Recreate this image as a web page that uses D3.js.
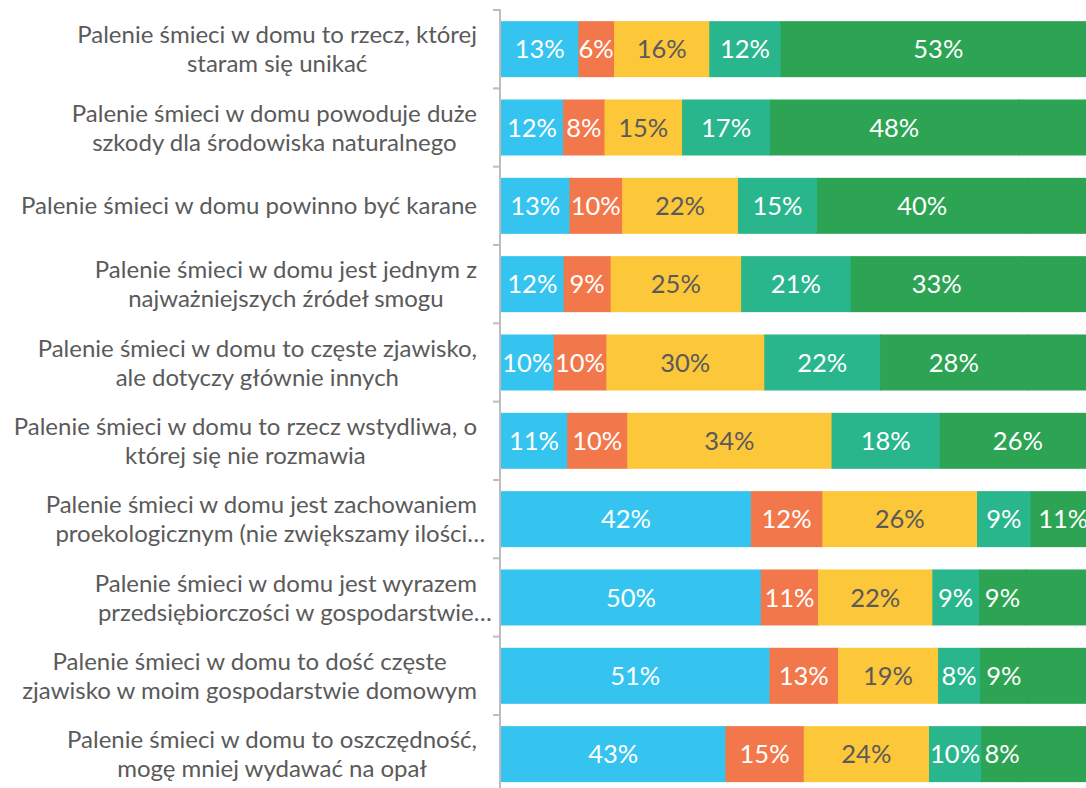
<!DOCTYPE html>
<html>
<head>
<meta charset="utf-8">
<script src="https://cdn.jsdelivr.net/npm/d3@7"></script>
<style>
  body { margin: 0; background: #fff; }
  svg { display: block; font-family: Lato, "Open Sans", sans-serif; }
</style>
</head>
<body>
<svg></svg>
<script>
// category labels, one entry per line
var categories = [
  ["Palenie śmieci w domu to rzecz, której", "staram się unikać"],
  ["Palenie śmieci w domu powoduje duże", "szkody dla środowiska naturalnego"],
  ["Palenie śmieci w domu powinno być karane"],
  ["Palenie śmieci w domu jest jednym z", "najważniejszych źródeł smogu"],
  ["Palenie śmieci w domu to częste zjawisko,", "ale dotyczy głównie innych"],
  ["Palenie śmieci w domu to rzecz wstydliwa, o", "której się nie rozmawia"],
  ["Palenie śmieci w domu jest zachowaniem", "proekologicznym (nie zwiększamy ilości…"],
  ["Palenie śmieci w domu jest wyrazem", "przedsiębiorczości w gospodarstwie…"],
  ["Palenie śmieci w domu to dość częste", "zjawisko w moim gospodarstwie domowym"],
  ["Palenie śmieci w domu to oszczędność,", "mogę mniej wydawać na opał"]
];

// answer shares (%), from "disagree" to "agree"
var s1 = [13, 12, 13, 12, 10, 11, 42, 50, 51, 43];
var s2 = [6, 8, 10, 9, 10, 10, 12, 11, 13, 15];
var s3 = [16, 15, 22, 25, 30, 34, 26, 22, 19, 24];
var s4 = [12, 17, 15, 21, 22, 18, 9, 9, 8, 10];
var s5 = [53, 48, 40, 33, 28, 26, 11, 9, 9, 8];
// unlabelled remainder that runs off the right edge
var rest = [0, 15, 13, 14, 13, 0, 0, 13.5, 13, 14];

var keys = ["s1", "s2", "s3", "s4", "s5", "rest"];
var colors = ["#35c4f0", "#f2784b", "#fdc73a", "#29b68c", "#2ca453", "#2ca453"];
var textColors = ["#fff", "#fff", "#5a5a5a", "#fff", "#fff", null];

var width = 1086, height = 788;

var svg = d3.select("svg")
    .attr("width", width)
    .attr("height", height);

// rows for the stack
var rows = categories.map(function(c, i) {
  return { i: i, s1: s1[i], s2: s2[i], s3: s3[i], s4: s4[i], s5: s5[i], rest: rest[i] };
});

var stack = d3.stack()
    .keys(keys)
    .offset(d3.stackOffsetExpand);
var series = stack(rows);

var x = d3.scaleLinear()
    .domain([0, 1])
    .range([501, 1096]);

var y = d3.scaleBand()
    .domain(d3.range(categories.length))
    .range([10, 793.3])
    .paddingInner(0.285)
    .paddingOuter(0.1425);

// bars
var layer = svg.append("g")
  .selectAll("g")
  .data(series)
  .enter().append("g")
    .attr("fill", function(d, i) { return colors[i]; });

layer.selectAll("rect")
  .data(function(d) { return d; })
  .enter().append("rect")
    .attr("x", function(d) { return x(d[0]); })
    .attr("y", function(d) { return y(d.data.i); })
    // the remainder overlaps a little so no seam shows against the green
    .attr("width", function(d) { return x(d[1]) - x(d[0]) + 1; })
    .attr("height", y.bandwidth());

// value labels in the middle of each segment
layer.filter(function(d, i) { return textColors[i]; })
  .selectAll("text")
  .data(function(d, i) { return d.map(function(p) { p.k = i; return p; }); })
  .enter().append("text")
    .attr("x", function(d) { return (x(d[0]) + x(d[1])) / 2; })
    .attr("y", function(d) { return y(d.data.i) + y.bandwidth() / 2; })
    .attr("dy", "0.36em")
    .attr("text-anchor", "middle")
    .attr("font-size", 25.5)
    .attr("fill", function(d) { return textColors[d.k]; })
    .text(function(d) { return d.data[keys[d.k]] + "%"; });

// left axis: line plus ticks at the band edges
var axis = svg.append("g");
axis.append("line")
    .attr("x1", 500).attr("x2", 500)
    .attr("y1", 9).attr("y2", height)
    .attr("stroke", "#bdbdbd")
    .attr("stroke-width", 2);

var edges = d3.range(categories.length + 1).map(function(i) {
  return y.range()[0] + i * y.step();
});
axis.selectAll(".tick")
  .data(edges)
  .enter().append("line")
    .attr("class", "tick")
    .attr("x1", 493).attr("x2", 500)
    .attr("y1", function(d) { return d; })
    .attr("y2", function(d) { return d; })
    .attr("stroke", "#bdbdbd")
    .attr("stroke-width", 2);

// category labels, block right-aligned, lines centred inside the block
var labelRight = 477;
var lineH = 29;
categories.forEach(function(lines, i) {
  var g = svg.append("g");
  var cy = y(i) + y.bandwidth() / 2;
  var texts = lines.map(function(l, j) {
    return g.append("text")
        .attr("font-size", 24)
        .attr("fill", "#5a5a5a")
        .attr("dy", "0.36em")
        .attr("y", cy + (j - (lines.length - 1) / 2) * lineH)
        .text(l);
  });
  // widths without trailing ellipsis
  var widths = texts.map(function(t, j) {
    var full = t.node().getComputedTextLength();
    if (lines[j].slice(-1) === "…") {
      t.text(lines[j].slice(0, -1));
      var w = t.node().getComputedTextLength();
      t.text(lines[j]);
      return w;
    }
    return full;
  });
  var blockW = d3.max(widths);
  var cx = labelRight - blockW / 2;
  texts.forEach(function(t, j) {
    t.attr("x", cx - widths[j] / 2);
  });
});
</script>
</body>
</html>
